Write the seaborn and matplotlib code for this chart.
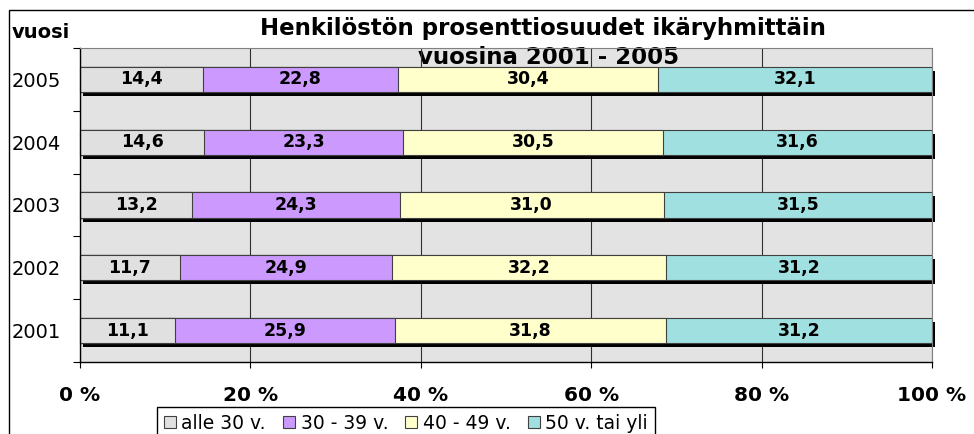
import numpy as np
import pandas as pd
import matplotlib
matplotlib.use("Agg")
import matplotlib.pyplot as plt
import seaborn as sns
from matplotlib import patheffects as pe
from matplotlib.patches import Rectangle, Patch

# ---- data ----
years = ['2005', '2004', '2003', '2002', '2001']
groups = ['alle 30 v.', '30 - 39 v.', '40 - 49 v.', '50 v. tai yli']
alle30 = [14.4, 14.6, 13.2, 11.7, 11.1]
v30_39 = [22.8, 23.3, 24.3, 24.9, 25.9]
v40_49 = [30.4, 30.5, 31.0, 32.2, 31.8]
v50_yli = [32.1, 31.6, 31.5, 31.2, 31.2]
colors = ['#e0e0e0', '#cc99ff', '#ffffcc', '#a0e0e0']
xticks = [0, 20, 40, 60, 80, 100]
xticklabels = ['0 %', '20 %', '40 %', '60 %', '80 %', '100 %']
title1 = 'Henkilöstön prosenttiosuudet ikäryhmittäin'
title2 = 'vuosina 2001 - 2005'
ylab = 'vuosi'

sns.set_theme(style='white')
plt.rcParams['font.family'] = ['DejaVu Sans']
for k in ['text.color', 'axes.labelcolor', 'xtick.color', 'ytick.color']:
    plt.rcParams[k] = 'black'

W, H = 974, 434
fig = plt.figure(figsize=(W / 100, H / 100), dpi=100)
fig.patch.set_facecolor('white')
ax = fig.add_axes([80 / W, 1 - 362 / H, (932 - 80) / W, (362 - 48) / H])
ax.set_facecolor('#e3e3e3')

values = np.array([alle30, v30_39, v40_49, v50_yli])
totals = values.sum(axis=0)
shares = values / totals * 100
cum = np.cumsum(shares, axis=0)

df = pd.DataFrame({'vuosi': years})
for i, g in enumerate(groups):
    df[g] = cum[i]

for i in reversed(range(len(groups))):
    n0 = len(ax.patches)
    sns.barplot(data=df, x=groups[i], y='vuosi', order=years, orient='h',
                color=colors[i], saturation=1, width=0.4, edgecolor='#404040',
                linewidth=0.8, errorbar=None, ax=ax)
    if i == len(groups) - 1:
        for p in ax.patches[n0:]:
            p.set_clip_on(False)
            p.set_path_effects([pe.SimplePatchShadow(offset=(2.4, -2.9), shadow_rgbFace='black', alpha=1),
                                pe.Normal()])

for i in range(len(groups)):
    for j in range(len(years)):
        ax.text(cum[i, j] - shares[i, j] / 2, j, f'{values[i, j]:.1f}'.replace('.', ','),
                ha='center', va='center', fontsize=12.5, fontweight='bold', color='black', zorder=5)

ax.set_xlim(0, 100)
ax.set_ylim(4.5, -0.5)
ax.set_xlabel('')
ax.set_ylabel('')
ax.set_xticks(xticks)
ax.set_xticklabels(xticklabels, fontsize=14.5, fontweight='bold')
ax.tick_params(axis='x', direction='out', length=4, width=0.8, pad=13, color='black', bottom=True)
ax.set_axisbelow(True)
ax.xaxis.grid(True, color='#303030', linewidth=0.8)
ax.yaxis.grid(False)

ax.set_yticks(range(len(years)))
ax.set_yticklabels(years, fontsize=14)
for lab in ax.get_yticklabels():
    lab.set_horizontalalignment('left')
ax.tick_params(axis='y', which='major', length=0, pad=49, left=True)
ax.set_yticks(np.arange(-0.5, len(years), 1.0), minor=True)
ax.tick_params(axis='y', which='minor', length=5, width=0.8, direction='out', left=True, color='black')

for s in ['left', 'bottom']:
    ax.spines[s].set_color('black')
    ax.spines[s].set_linewidth(1.0)
for s in ['top', 'right']:
    ax.spines[s].set_color('#808080')
    ax.spines[s].set_linewidth(0.8)

ax.text(543 / W, 1 - 29 / H, title1, transform=fig.transFigure, ha='center', va='center',
        fontsize=16.5, fontweight='bold', zorder=0.3, clip_on=False)
ax.text(549 / W, 1 - 58 / H, title2, transform=fig.transFigure, ha='center', va='center',
        fontsize=16.5, fontweight='bold', zorder=0.3, clip_on=False)
fig.text(12 / W, 1 - 32 / H, ylab, ha='left', va='center', fontsize=14, fontweight='bold')

handles = [Patch(facecolor=c, edgecolor='#404040', linewidth=0.8) for c in colors]
fig.legend(handles, groups, loc='upper left',
           bbox_to_anchor=(157 / W, 1 - 407 / H), ncol=4, frameon=True, fancybox=False,
           edgecolor='black', fontsize=13.5, handlelength=0.65, handleheight=0.65,
           handletextpad=0.3, columnspacing=0.9, borderpad=0.35, borderaxespad=0,
           framealpha=1)

fig.patches.append(Rectangle((9 / W, -0.2), 1.2, (1 - 10 / H) + 0.2, transform=fig.transFigure,
                             fill=False, edgecolor='black', linewidth=1.0))

fig.savefig('out.png', dpi=100)
